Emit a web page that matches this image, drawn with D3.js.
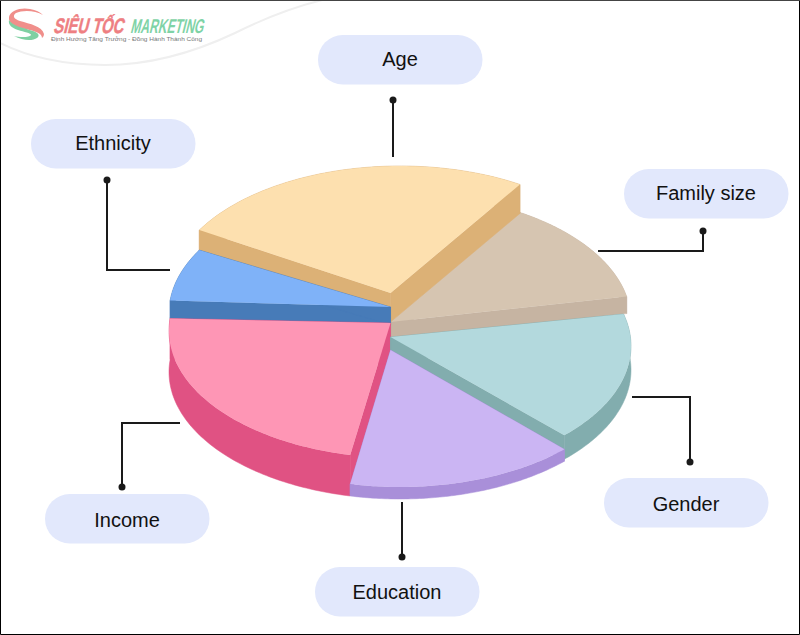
<!DOCTYPE html>
<html>
<head>
<meta charset="utf-8">
<script src="https://cdn.jsdelivr.net/npm/d3@7/dist/d3.min.js"></script>
<style>
    html, body { margin: 0; padding: 0; background: #fff; }
    svg { display: block; }
    text { font-family: "Liberation Sans", Arial, sans-serif; }
</style>
</head>
<body>
<svg id="chart" width="800" height="635"></svg>
<script>
// shares, clockwise starting from the Gender slice
const categories = ['Gender', 'Education', 'Income', 'Ethnicity', 'Age', 'Family size'];
const shares = [16.3, 15.9, 22.9, 6.6, 25.2, 13.1];

// how each slice is shifted and how thick it is
const sliceCentreY = [346, 360, 331, 313, 293, 321];
const sliceApexY = [337, 350, 323, 307, 293, 322];
const sliceDepth = [24, 12, 41, 18, 29, 17];
const topColors = ['#b3d9dd', '#cbb5f3', '#fe96b5', '#7fb2f8', '#fde0af', '#d6c5b1'];
const sideColors = ['#82adae', '#a98fd9', '#e05283', '#477bb8', '#dcb176', '#c6b4a2'];
const drawOrder = ['Family size', 'Age', 'Ethnicity', 'Income', 'Gender', 'Education'];

const labelBoxes = ['Age', 'Ethnicity', 'Family size', 'Gender', 'Income', 'Education'];
const labelLeft = [318, 31, 624, 604, 45, 315];
const labelTop = [35, 119, 169, 478, 494, 567];
const labelBaseline = [66, 150, 200, 511, 527, 599];
const labelLeaders = [
    [[393, 100], [393, 157]],
    [[107, 180], [107, 270], [170, 270]],
    [[703, 231], [703, 251], [598, 251]],
    [[690, 462], [690, 397], [632, 397]],
    [[122, 487], [122, 423], [180, 423]],
    [[402, 557], [402, 502]]
];

const width = 800;
const height = 635;
const rx = 231;
const ry = 127;
const cx = 400;
const apexX = -0.041; // slice tips sit a bit left of the ellipse centre
const deg = Math.PI / 180;

const svg = d3.select('#chart');

svg.append('rect')
    .attr('width', width)
    .attr('height', height)
    .attr('fill', '#fff');

drawLogo();

const arcs = d3.pie().sort(null)(shares);
const line = d3.line();

// d3.pie clamps to a full turn, the slices overlap a little so stretch the angles
const angle = d3.scaleLinear()
    .domain([0, 2 * Math.PI])
    .range([75.4 * deg, (75.4 + 363.5) * deg]);

const x = d3.scaleLinear().domain([-1, 1]).range([cx - rx, cx + rx]);

function rimPoints(d, cy) {
    const y = d3.scaleLinear().domain([-1, 1]).range([cy - ry, cy + ry]);
    const steps = 80;
    return d3.range(steps + 1).map(function(i) {
        const a = angle(d.startAngle + (d.endAngle - d.startAngle) * i / steps);
        return [x(Math.sin(a)), y(-Math.cos(a))];
    });
}

const pieGroup = svg.append('g').attr('class', 'pie');

drawOrder.forEach(function(name) {
    const i = categories.indexOf(name);
    const depth = sliceDepth[i];
    const rim = rimPoints(arcs[i], sliceCentreY[i]);
    const apex = [x(apexX), sliceApexY[i]];
    const down = function(p) { return [p[0], p[1] + depth]; };
    const first = rim[0];
    const last = rim[rim.length - 1];

    const g = pieGroup.append('g').attr('class', 'slice');

    // walls: outer band and the two cut faces
    const band = rim.concat(rim.slice().reverse().map(down));
    [band, [apex, first, down(first), down(apex)], [apex, last, down(last), down(apex)]]
        .forEach(function(shape) {
            g.append('path')
                .attr('d', line(shape) + 'Z')
                .attr('fill', sideColors[i])
                .attr('stroke', sideColors[i])
                .attr('stroke-width', 0.5);
        });

    g.append('path')
        .attr('d', line([apex].concat(rim)) + 'Z')
        .attr('fill', topColors[i]);
});

// leaders and pills
labelBoxes.forEach(function(name, i) {
    const g = svg.append('g').attr('class', 'label');
    const pts = labelLeaders[i];

    g.append('path')
        .attr('d', line(pts))
        .attr('fill', 'none')
        .attr('stroke', '#1a1a1a')
        .attr('stroke-width', 2);

    g.append('circle')
        .attr('cx', pts[0][0])
        .attr('cy', pts[0][1])
        .attr('r', 3.5)
        .attr('fill', '#1a1a1a');

    g.append('rect')
        .attr('x', labelLeft[i])
        .attr('y', labelTop[i])
        .attr('width', 164.5)
        .attr('height', 49.5)
        .attr('rx', 24.7)
        .attr('fill', '#e2e8fc');

    g.append('text')
        .attr('x', labelLeft[i] + 82)
        .attr('y', labelBaseline[i])
        .attr('text-anchor', 'middle')
        .attr('font-size', 20)
        .attr('fill', '#111')
        .text(name);
});

// image frame
svg.append('path')
    .attr('d', 'M0.5,0V634.5H799.5V0')
    .attr('fill', 'none')
    .attr('stroke', '#000');
svg.append('path')
    .attr('d', 'M0,0.5H800')
    .attr('stroke', '#444');

function drawLogo() {
    const logo = svg.append('g').attr('class', 'logo');

    // the pale swoosh under the logo
    logo.append('path')
        .attr('d', 'M0,43C30,58 65,65 105,65C150,65 195,52 235,33C265,18 290,8 322,0')
        .attr('fill', 'none')
        .attr('stroke', '#efefef')
        .attr('stroke-width', 2);

    logo.append('path')
        .attr('d', 'M43,15C35,10 22,10 16,13C12,16 14,19 20,21C30,24 42,26 44,34C44,36 43,37 42,38C42,33 35,31 25,29C15,27 8,23 9,17C10,10 22,7 30,9C36,10 40,12 43,15Z')
        .attr('fill', '#f08f8b');
    logo.append('path')
        .attr('d', 'M9,20C12,26 24,28 33,31C39,33 40,36 37,38C33,41 23,41 14,36C22,38 30,37 31,35C31,33 24,32 18,30C12,28 8,25 9,20Z')
        .attr('fill', '#7fd0a2');

    logo.append('text')
        .attr('transform', 'translate(53,33) skewX(-14)')
        .attr('font-size', 21)
        .attr('font-weight', 700)
        .attr('fill', '#ee7f82')
        .attr('stroke', '#ee7f82')
        .attr('stroke-width', 0.5)
        .attr('textLength', 70)
        .attr('lengthAdjust', 'spacingAndGlyphs')
        .text('SIÊU TỐC');

    logo.append('text')
        .attr('transform', 'translate(130,33) skewX(-14)')
        .attr('font-size', 20)
        .attr('font-weight', 700)
        .attr('fill', '#7fd3a6')
        .attr('textLength', 73)
        .attr('lengthAdjust', 'spacingAndGlyphs')
        .text('MARKETING');

    logo.append('text')
        .attr('x', 51)
        .attr('y', 41)
        .attr('font-size', 6)
        .attr('fill', '#777')
        .attr('textLength', 151)
        .attr('lengthAdjust', 'spacingAndGlyphs')
        .text('Định Hướng Tăng Trưởng - Đồng Hành Thành Công');
}
</script>
</body>
</html>
